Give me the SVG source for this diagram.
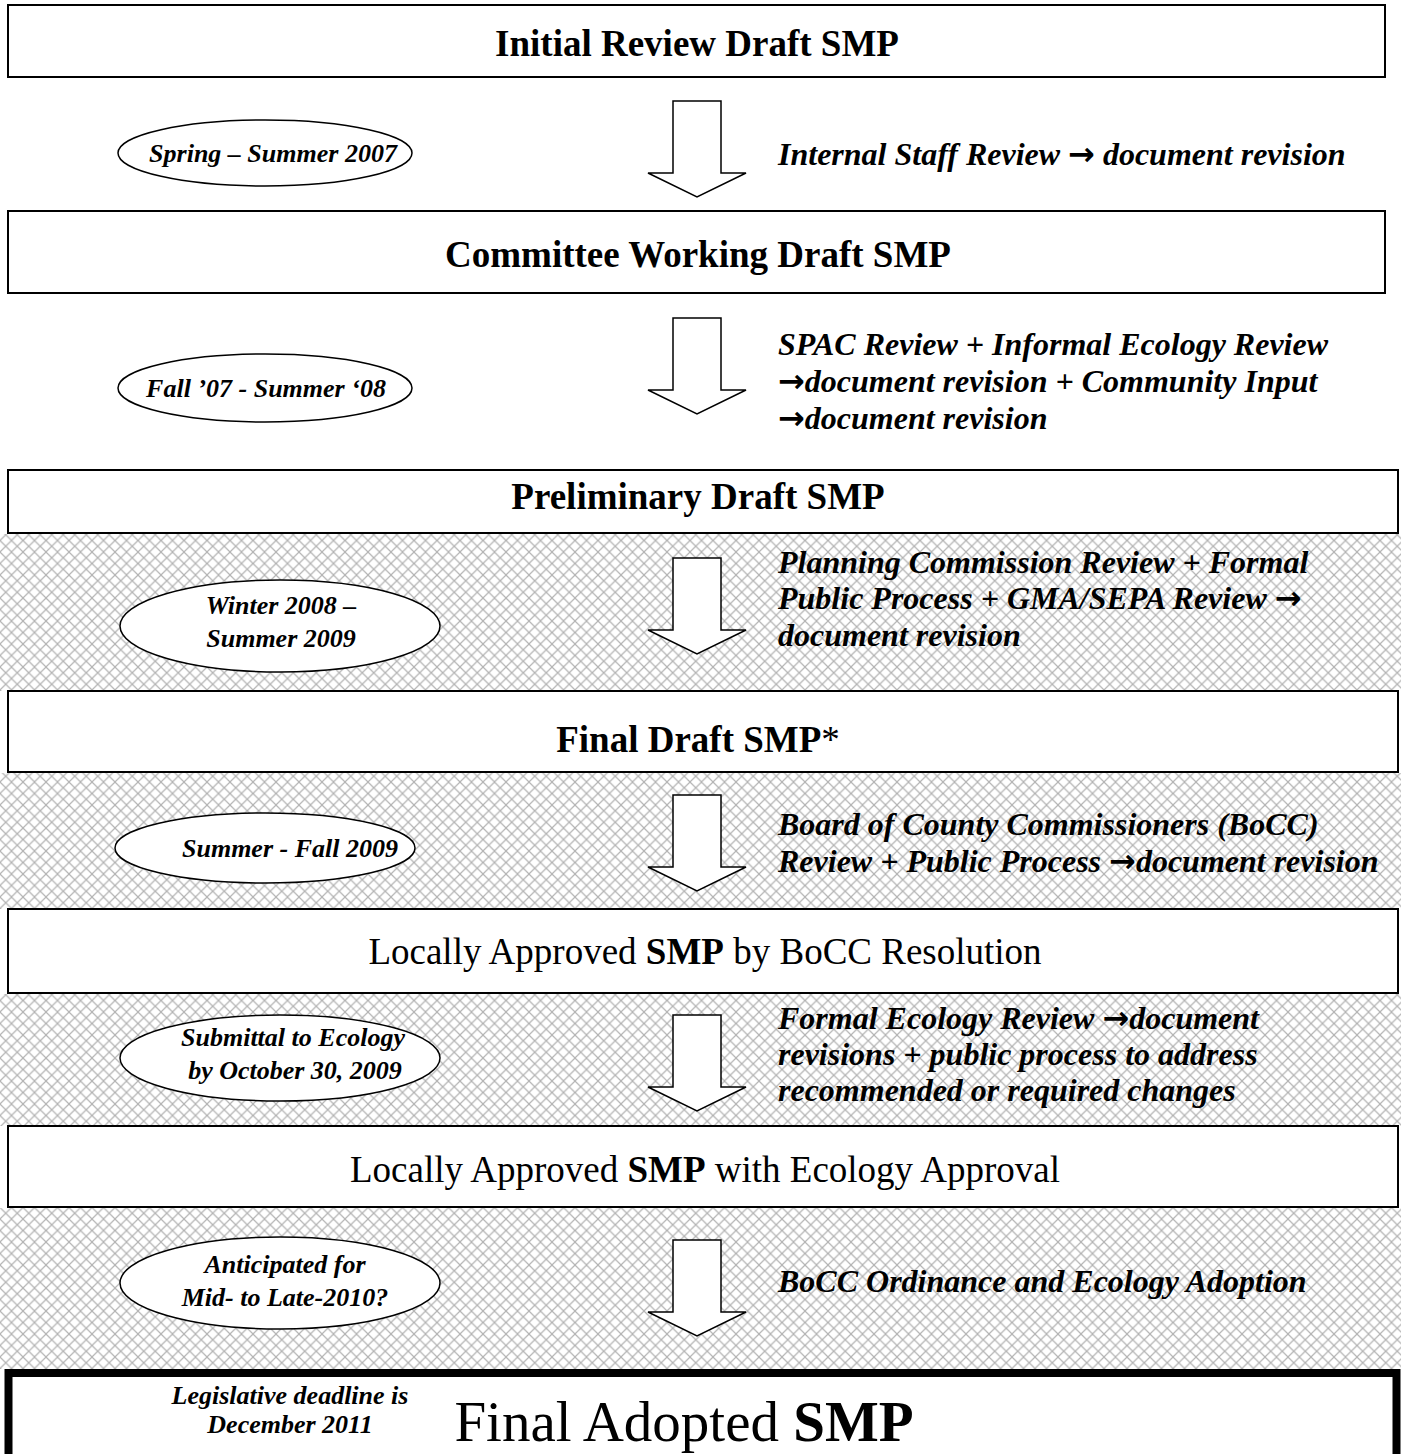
<svg xmlns="http://www.w3.org/2000/svg" width="1401" height="1454" viewBox="0 0 1401 1454">
<defs>
<pattern id="hatch" patternUnits="userSpaceOnUse" width="11.5" height="11.5">
<path d="M0,0 L11.5,11.5 M11.5,0 L0,11.5" stroke="#b3b3b3" stroke-width="1.2" fill="none"/>
</pattern>
<path id="barrow" d="M-24,0 L24,0 L24,72 L49,72 L0,96 L-49,72 L-24,72 Z"/>
</defs>
<style>
.box{fill:#fff;stroke:#000;stroke-width:2}
.ell{fill:#fff;stroke:#000;stroke-width:1.5}
.arr{fill:#fff;stroke:#000;stroke-width:1.5}
.tb{font-family:"Liberation Serif","Times New Roman",serif;font-weight:bold;font-size:37px;text-anchor:middle}
.tr{font-family:"Liberation Serif","Times New Roman",serif;font-size:37px;text-anchor:middle}
.big{font-family:"Liberation Serif","Times New Roman",serif;font-size:57px;text-anchor:middle}
.el{font-family:"Liberation Serif","Times New Roman",serif;font-weight:bold;font-style:italic;font-size:26px;text-anchor:middle}
.rt{font-family:"Liberation Serif","Times New Roman",serif;font-weight:bold;font-style:italic;font-size:32px}
.ar{font-family:"DejaVu Sans",sans-serif;font-weight:bold;font-style:normal}
.hatch{fill:url(#hatch)}
</style>
<g id="hatching">
<rect class="hatch" x="0" y="534" width="1401" height="157"/>
<rect class="hatch" x="0" y="773" width="1401" height="136"/>
<rect class="hatch" x="0" y="994" width="1401" height="132"/>
<rect class="hatch" x="0" y="1208" width="1401" height="161"/>
</g>
<g id="node1"><rect class="box" x="8" y="5" width="1377" height="72"/><text class="tb" x="697" y="56">Initial Review Draft SMP</text></g>
<g id="node2"><rect class="box" x="8" y="211" width="1377" height="82"/><text class="tb" x="698" y="267">Committee Working Draft SMP</text></g>
<g id="node3"><rect class="box" x="8" y="470" width="1390" height="63"/><text class="tb" x="698" y="509">Preliminary Draft SMP</text></g>
<g id="node4"><rect class="box" x="8" y="691" width="1390" height="81"/><text class="tb" x="698" y="752">Final Draft SMP<tspan font-weight="normal">*</tspan></text></g>
<g id="node5"><rect class="box" x="8" y="909" width="1390" height="84"/><text class="tr" x="705" y="964">Locally Approved <tspan font-weight="bold">SMP</tspan> by BoCC Resolution</text></g>
<g id="node6"><rect class="box" x="8" y="1126" width="1390" height="81"/><text class="tr" x="705" y="1182">Locally Approved <tspan font-weight="bold">SMP</tspan> with Ecology Approval</text></g>
<g id="node7"><rect x="8.5" y="1373" width="1388" height="100" fill="#fff" stroke="#000" stroke-width="8"/>
<text class="big" x="684" y="1441">Final Adopted <tspan font-weight="bold">SMP</tspan></text>
<text class="el" x="290" y="1404">Legislative deadline is</text>
<text class="el" x="290" y="1433">December 2011</text></g>
<g id="ellipse1"><ellipse class="ell" cx="265" cy="153" rx="147" ry="33"/><text class="el" x="273" y="162">Spring – Summer 2007</text></g>
<g id="ellipse2"><ellipse class="ell" cx="265" cy="388" rx="147" ry="34"/><text class="el" x="266" y="397">Fall ’07 - Summer ‘08</text></g>
<g id="ellipse3"><ellipse class="ell" cx="280" cy="626" rx="160" ry="46"/><text class="el" x="281" y="614">Winter 2008 –</text><text class="el" x="281" y="647">Summer 2009</text></g>
<g id="ellipse4"><ellipse class="ell" cx="265" cy="848" rx="150" ry="35"/><text class="el" x="290" y="857">Summer - Fall 2009</text></g>
<g id="ellipse5"><ellipse class="ell" cx="280" cy="1058" rx="160" ry="43"/><text class="el" x="293" y="1046">Submittal to Ecology</text><text class="el" x="295" y="1079">by October 30, 2009</text></g>
<g id="ellipse6"><ellipse class="ell" cx="280" cy="1283" rx="160" ry="46"/><text class="el" x="285" y="1273">Anticipated for</text><text class="el" x="285" y="1306">Mid- to Late-2010?</text></g>
<g id="connectors">
<use href="#barrow" class="arr" x="697" y="101"/>
<use href="#barrow" class="arr" x="697" y="318"/>
<use href="#barrow" class="arr" x="697" y="558"/>
<use href="#barrow" class="arr" x="697" y="795"/>
<use href="#barrow" class="arr" x="697" y="1015"/>
<use href="#barrow" class="arr" x="697" y="1240"/>
</g>
<g id="labels">
<text class="rt" x="778" y="165">Internal Staff Review  <tspan class="ar">→</tspan> document revision</text>
<text class="rt" x="778" y="355">SPAC Review + Informal Ecology Review</text>
<text class="rt" x="778" y="392"><tspan class="ar">→</tspan>document revision + Community Input</text>
<text class="rt" x="778" y="429"><tspan class="ar">→</tspan>document revision</text>
<text class="rt" x="778" y="573">Planning Commission Review + Formal</text>
<text class="rt" x="778" y="609">Public Process + GMA/SEPA Review <tspan class="ar">→</tspan></text>
<text class="rt" x="778" y="646">document revision</text>
<text class="rt" x="778" y="835">Board of County Commissioners (BoCC)</text>
<text class="rt" x="778" y="872">Review + Public Process <tspan class="ar">→</tspan>document revision</text>
<text class="rt" x="778" y="1029">Formal Ecology Review  <tspan class="ar">→</tspan>document</text>
<text class="rt" x="778" y="1065">revisions + public process to address</text>
<text class="rt" x="778" y="1101">recommended or required changes</text>
<text class="rt" x="778" y="1292">BoCC Ordinance and Ecology Adoption</text>
</g>
</svg>
